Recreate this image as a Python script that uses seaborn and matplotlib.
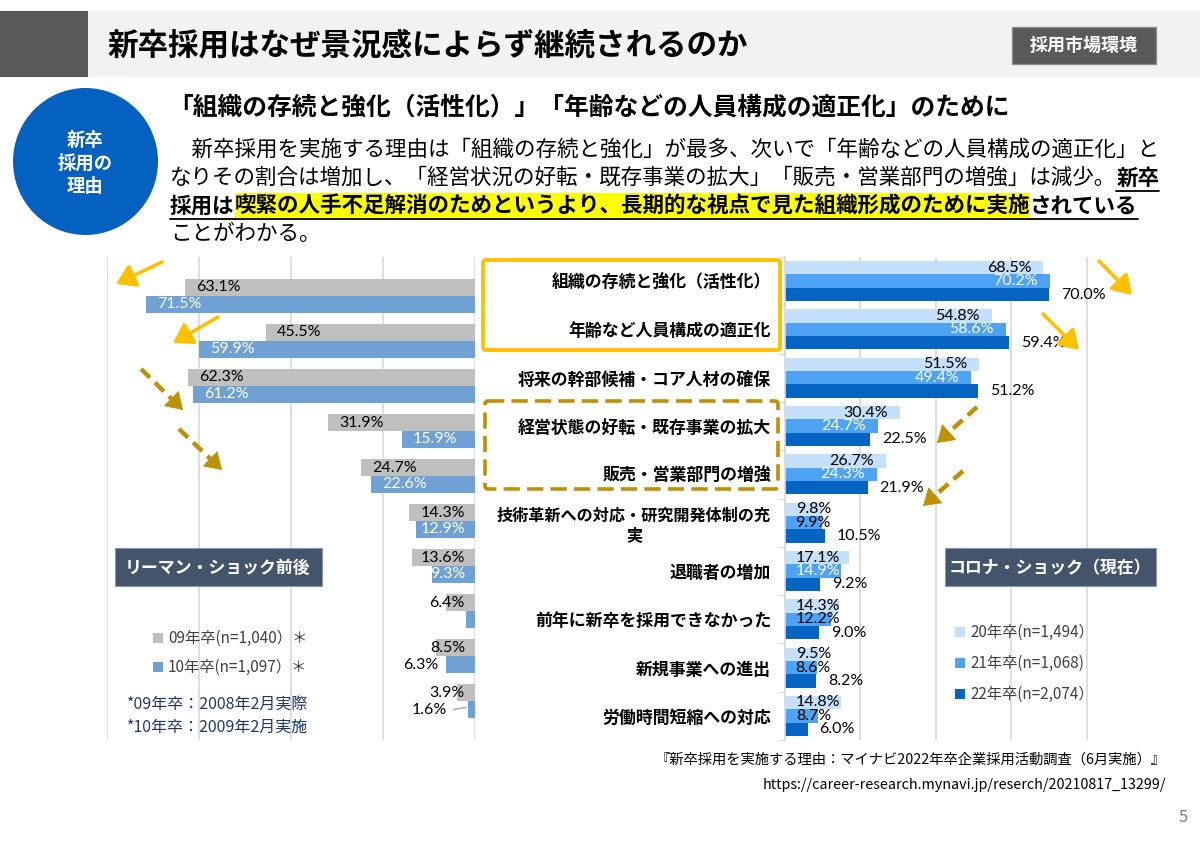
import numpy as np
import pandas as pd
import matplotlib
matplotlib.use('Agg')
import matplotlib.pyplot as plt
import seaborn as sns
from matplotlib.patches import Rectangle, Ellipse, FancyArrowPatch, FancyBboxPatch

sns.set_theme(style='white')
plt.rcParams['font.family'] = ['Noto Sans CJK JP', 'DejaVu Sans']

W, H = 1200, 842

# データ
reasons = ['組織の存続と強化（活性化）', '年齢など人員構成の適正化', '将来の幹部候補・コア人材の確保',
           '経営状態の好転・既存事業の拡大', '販売・営業部門の増強', '技術革新への対応・研究開発体制の充\n実',
           '退職者の増加', '前年に新卒を採用できなかった', '新規事業への進出', '労働時間短縮への対応']
lehman_years = ['09年卒', '10年卒']
lehman_09 = [63.1, 45.5, 62.3, 31.9, 24.7, 14.3, 13.6, 6.4, 8.5, 3.9]
lehman_10 = [71.5, 59.9, 61.2, 15.9, 22.6, 12.9, 9.3, 1.9, 6.3, 1.6]
corona_years = ['20年卒', '21年卒', '22年卒']
corona_20 = [68.5, 54.8, 51.5, 30.4, 26.7, 9.8, 17.1, 14.3, 9.5, 14.8]
corona_21 = [70.2, 58.6, 49.4, 24.7, 24.3, 9.9, 14.9, 12.2, 8.6, 8.7]
corona_22 = [70.0, 59.4, 51.2, 22.5, 21.9, 10.5, 9.2, 9.0, 8.2, 6.0]
lehman_legend = ['09年卒(n=1,040）＊', '10年卒(n=1,097）＊']
corona_legend = ['20年卒(n=1,494）', '21年卒(n=1,068)', '22年卒(n=2,074）']
lehman_notes = ['*09年卒：2008年2月実際', '*10年卒：2009年2月実施']
no_label = [('10年卒', 7)]  # 元図でラベル無し

c_gray, c_lblue = '#BFBFBF', '#70A1D4'
c_20, c_21, c_22 = '#C5E0FA', '#4FA3F5', '#0563C1'
num_font = ['Lato', 'DejaVu Sans']
num_size = 11.5

left_df = pd.DataFrame({'reason': reasons * 2,
                        'year': np.repeat(lehman_years, len(reasons)),
                        'value': lehman_09 + lehman_10})
right_df = pd.DataFrame({'reason': reasons * 3,
                         'year': np.repeat(corona_years, len(reasons)),
                         'value': corona_20 + corona_21 + corona_22})


def box(x0, y0, x1, y1):
    return [x0 / W, 1 - y1 / H, (x1 - x0) / W, (y1 - y0) / H]


fig = plt.figure(figsize=(W / 100, H / 100), dpi=100)
fig.patch.set_facecolor('white')

# 左：リーマン・ショック前後
axL = fig.add_axes(box(107, 257, 475, 740), zorder=1)
sns.barplot(data=left_df, y='reason', x='value', hue='year', order=reasons, hue_order=lehman_years,
            orient='h', palette=[c_gray, c_lblue], width=0.75, gap=0, saturation=1,
            errorbar=None, linewidth=0, legend=False, ax=axL)
axL.set_xlim(80, 0)
axL.set_xticks([0, 20, 40, 60, 80])
axL.grid(True, axis='x', color='#D9D9D9', lw=1.2)
axL.set_axisbelow(True)
axL.tick_params(axis='both', length=0, labelbottom=False, labelleft=False)
axL.set_xlabel('')
axL.set_ylabel('')
for s in axL.spines.values():
    s.set_visible(False)

# 右：コロナ・ショック
axR = fig.add_axes(box(785, 257, 1162, 740), zorder=1)
sns.barplot(data=right_df, y='reason', x='value', hue='year', order=reasons, hue_order=corona_years,
            orient='h', palette=[c_20, c_21, c_22], width=0.83, gap=0, saturation=1,
            errorbar=None, linewidth=0, legend=False, ax=axR)
axR.set_xlim(0, 100)
axR.set_xticks([0, 20, 40, 60, 80])
axR.grid(True, axis='x', color='#D9D9D9', lw=1.2)
axR.set_axisbelow(True)
axR.tick_params(axis='x', length=0, labelbottom=False)
axR.set_xlabel('')
axR.set_ylabel('')
for k, s in axR.spines.items():
    s.set_visible(k == 'left')
axR.spines['left'].set_color('#D9D9D9')
axR.set_yticks(range(len(reasons)))
axR.set_yticklabels(reasons, fontsize=12.2, fontweight='bold', color='black', multialignment='center')
for lbl in axR.get_yticklabels():
    if '\n' in lbl.get_text():
        lbl.set_fontsize(11.6)
axR.set_yticks(np.arange(-0.5, len(reasons), 1), minor=True)
axR.tick_params(axis='y', which='major', length=0, pad=10)
axR.tick_params(axis='y', which='minor', length=4, color='#D9D9D9', width=1, left=True)

# 値ラベル（左）
sxL = 368 / 80
for k, (cont, vals) in enumerate(zip(axL.containers, [lehman_09, lehman_10])):
    for i, (bar, v) in enumerate(zip(cont, vals)):
        if (lehman_years[k], i) in no_label:
            continue
        yc = bar.get_y() + bar.get_height() / 2
        txt = f'{v:.1f}%'
        w = 9.0 * len(txt)
        if k == 1 and v < 8:
            xt = max(v + 8 / sxL, 6.0)
            axL.text(xt, yc, txt, ha='right', va='center', fontsize=num_size, family=num_font, color='black')
            if xt - v > 3:
                axL.plot([xt - 1.3, v + 0.3], [yc, yc - 0.05], color='#A6A6A6', lw=1)
            continue
        col = 'black' if k == 0 else 'white'
        if v - (11 + w) / sxL < 10 / sxL:
            axL.text(10 / sxL, yc, txt, ha='right', va='center', fontsize=num_size, family=num_font, color=col)
        else:
            axL.text(v - 11 / sxL, yc, txt, ha='left', va='center', fontsize=num_size, family=num_font, color=col)

# 値ラベル（右）
sxR = 377 / 100
for k, (cont, vals) in enumerate(zip(axR.containers, [corona_20, corona_21, corona_22])):
    for bar, v in zip(cont, vals):
        yc = bar.get_y() + bar.get_height() / 2
        txt = f'{v:.1f}%'
        w = 9.0 * len(txt)
        if k == 2:
            axR.text(v + 12 / sxR, yc, txt, ha='left', va='center', fontsize=num_size, family=num_font, color='black')
        else:
            col = 'white' if (k == 1 and v >= 14) else 'black'
            xt = max(v - 12 / sxR, (10 + w) / sxR)
            axR.text(xt, yc, txt, ha='right', va='center', fontsize=num_size, family=num_font, color=col)

# 装飾用オーバーレイ（ピクセル座標）
ov = fig.add_axes([0, 0, 1, 1], zorder=5)
ov.set_xlim(0, W)
ov.set_ylim(H, 0)
ov.axis('off')

# ヘッダー
ov.add_patch(Rectangle((88, 11), W - 88, 66, facecolor='#F2F2F2', edgecolor='none'))
ov.add_patch(Rectangle((0, 11), 88, 66, facecolor='#595959', edgecolor='none'))
ov.text(108, 45, '新卒採用はなぜ景況感によらず継続されるのか', fontsize=22, fontweight='bold',
        va='center', ha='left', color='black')
ov.add_patch(Rectangle((1012, 27), 144, 37, facecolor='#595959', edgecolor='#8C8C8C', lw=1))
ov.text(1084, 45.5, '採用市場環境', fontsize=13, fontweight='bold', va='center', ha='center', color='white')

# 丸
ov.add_patch(Ellipse((85.5, 161.5), 145, 147, facecolor='#0561C0', edgecolor='none'))
for txt, y in zip(['新卒', '採用の', '理由'], [140, 163, 187]):
    ov.text(85, y, txt, fontsize=13.2, fontweight='bold', color='white', ha='center', va='center')

# 見出しと本文
ov.text(168, 108, '「組織の存続と強化（活性化）」「年齢などの人員構成の適正化」のために', fontsize=17.8,
        fontweight='bold', va='center', ha='left', color='black')

renderer = fig.canvas.get_renderer()


def runs_line(x, y, runs, size=15.5):
    for txt, bold, ul, hl in runs:
        t = ov.text(x, y, txt, fontsize=size, fontweight='bold' if bold else 'normal',
                    va='center', ha='left', color='black', zorder=3)
        x1 = t.get_window_extent(renderer).x1
        if hl:
            ov.add_patch(Rectangle((x, y - 13), x1 - x, 26, facecolor='#FFFF00', edgecolor='none', zorder=2))
        if ul:
            ov.plot([x, x1], [y + 12.5, y + 12.5], color='black', lw=1.3, zorder=3)
        x = x1


runs_line(170, 150, [('　新卒採用を実施する理由は「組織の存続と強化」が最多、次いで「年齢などの人員構成の適正化」と', False, False, False)])
runs_line(170, 178, [('なりその割合は増加し、「経営状況の好転・既存事業の拡大」「販売・営業部門の増強」は減少。', False, False, False),
                     ('新卒', True, True, False)])
runs_line(170, 206, [('採用は', True, True, False),
                     ('喫緊の人手不足解消のためというより、長期的な視点で見た組織形成のために実施', True, True, True),
                     ('されている', True, True, False)])
runs_line(170, 234, [('ことがわかる。', False, False, False)])

# 囲み枠
ov.add_patch(FancyBboxPatch((483, 260), 297, 90, boxstyle='round,pad=0,rounding_size=3',
                            facecolor='none', edgecolor='#FFC000', lw=2.8, zorder=4))
ov.add_patch(FancyBboxPatch((485, 401), 293, 88, boxstyle='round,pad=0,rounding_size=3',
                            facecolor='none', edgecolor='#BF9000', lw=2.6, linestyle=(0, (4.5, 2)), zorder=4))


# 矢印
def arrow(x0, y0, x1, y1, color, dashed=False):
    if dashed:
        d = np.hypot(x1 - x0, y1 - y0)
        xm, ym = x1 - (x1 - x0) * 14 / d, y1 - (y1 - y0) * 14 / d
        ov.plot([x0, xm], [y0, ym], color=color, lw=3.2, linestyle=(0, (2.8, 1.6)), solid_capstyle='butt')
        ov.add_patch(FancyArrowPatch((xm, ym), (x1, y1), arrowstyle='-|>,head_length=0.7,head_width=0.45',
                                     mutation_scale=16, color=color, lw=0.5, shrinkA=0, shrinkB=0))
    else:
        ov.add_patch(FancyArrowPatch((x0, y0), (x1, y1), arrowstyle='-|>,head_length=0.7,head_width=0.45',
                                     mutation_scale=16, color=color, lw=2.6, shrinkA=0, shrinkB=0))


arrow(162, 262, 116, 284, '#FFC000')
arrow(218, 317, 173, 343, '#FFC000')
arrow(141, 369, 183, 410, '#BF9000', True)
arrow(179, 429, 222, 470, '#BF9000', True)
arrow(1099, 261, 1132, 295, '#FFC000')
arrow(1043, 314, 1079, 350, '#FFC000')
arrow(977, 407, 937, 443, '#BF9000', True)
arrow(963, 471, 923, 506, '#BF9000', True)

# ラベルボックス
ov.add_patch(Rectangle((115, 548), 207, 38, facecolor='#44546A', edgecolor='#8497B0', lw=0.8))
ov.text(218, 568, 'リーマン・ショック前後', fontsize=12.2, fontweight='bold', color='white', ha='center', va='center')
ov.add_patch(Rectangle((945, 548), 211, 38, facecolor='#44546A', edgecolor='#8497B0', lw=0.8))
ov.text(1050, 568, 'コロナ・ショック（現在）', fontsize=12.2, fontweight='bold', color='white', ha='center', va='center')

# 凡例
for j, (lab, c) in enumerate(zip(lehman_legend, [c_gray, c_lblue])):
    y = 638 + 29 * j
    ov.add_patch(Rectangle((153, y - 5), 10, 10, facecolor=c, edgecolor='none'))
    ov.text(168, y, lab, fontsize=11, color='#404040', va='center', ha='left')
for j, note in enumerate(lehman_notes):
    ov.text(127, 704 + 23 * j, note, fontsize=11.5, color='#1F3864', va='center', ha='left')
for j, (lab, c) in enumerate(zip(corona_legend, [c_20, c_21, c_22])):
    y = 632 + 31 * j
    ov.add_patch(Rectangle((955, y - 5), 10, 10, facecolor=c, edgecolor='none'))
    ov.text(970, y, lab, fontsize=11, color='#404040', va='center', ha='left')

# 出典
ov.text(1166, 760, '『新卒採用を実施する理由：マイナビ2022年卒企業採用活動調査（6月実施）』', fontsize=10.3,
        color='black', ha='right', va='center')
ov.text(1166, 785, 'https://career-research.mynavi.jp/reserch/20210817_13299/', fontsize=10.3,
        color='black', ha='right', va='center')
ov.text(1183, 818, '5', fontsize=12, color='#808080', ha='center', va='center')

fig.savefig('out.png', dpi=100)
